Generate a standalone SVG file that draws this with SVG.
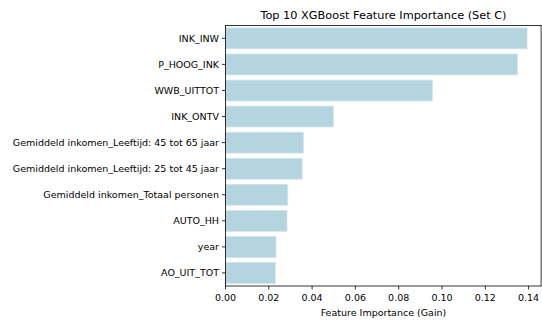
<svg xmlns="http://www.w3.org/2000/svg" width="542" height="323" viewBox="0 0 542 323">
<style>
text{font-family:"DejaVu Sans",sans-serif;fill:#000}
.yl{font-size:9.5px;text-anchor:end;dominant-baseline:central}
.xl{font-size:9.5px;text-anchor:middle;dominant-baseline:central}
.ttl{font-size:11.3px;text-anchor:middle;dominant-baseline:central}
.bar{fill:#b4d4df;stroke:#d2e5eb;stroke-width:0.8}
.tk{stroke:#000;stroke-width:0.8}
.sp{fill:none;stroke:#000;stroke-width:0.8}
</style>
<rect width="542" height="323" fill="#fff"/>
<text class="ttl" x="383.5" y="15">Top 10 XGBoost Feature Importance (Set C)</text>
<g id="bars">
<g id="bar-INK_INW"><rect class="bar" x="225.5" y="27.9" width="301.6" height="20.9"/></g>
<g id="bar-P_HOOG_INK"><rect class="bar" x="225.5" y="54" width="291.9" height="20.9"/></g>
<g id="bar-WWB_UITTOT"><rect class="bar" x="225.5" y="80.1" width="206.8" height="20.9"/></g>
<g id="bar-INK_ONTV"><rect class="bar" x="225.5" y="106.1" width="107.8" height="20.9"/></g>
<g id="bar-45-65"><rect class="bar" x="225.5" y="132.2" width="77.8" height="20.9"/></g>
<g id="bar-25-45"><rect class="bar" x="225.5" y="158.3" width="76.6" height="20.9"/></g>
<g id="bar-totaal"><rect class="bar" x="225.5" y="184.3" width="62.2" height="20.9"/></g>
<g id="bar-AUTO_HH"><rect class="bar" x="225.5" y="210.4" width="61.5" height="20.9"/></g>
<g id="bar-year"><rect class="bar" x="225.5" y="236.5" width="50.5" height="20.9"/></g>
<g id="bar-AO_UIT_TOT"><rect class="bar" x="225.5" y="262.5" width="49.8" height="20.9"/></g>
</g>
<g id="yaxis">
<path class="tk" d="M222 38.3h3.5M222 64.4h3.5M222 90.5h3.5M222 116.5h3.5M222 142.6h3.5M222 168.7h3.5M222 194.7h3.5M222 220.8h3.5M222 246.9h3.5M222 272.9h3.5"/>
<text class="yl" x="219" y="38.3">INK_INW</text>
<text class="yl" x="219" y="64.4">P_HOOG_INK</text>
<text class="yl" x="219" y="90.5">WWB_UITTOT</text>
<text class="yl" x="219" y="116.5">INK_ONTV</text>
<text class="yl" x="219" y="142.6">Gemiddeld inkomen_Leeftijd: 45 tot 65 jaar</text>
<text class="yl" x="219" y="168.7">Gemiddeld inkomen_Leeftijd: 25 tot 45 jaar</text>
<text class="yl" x="219" y="194.7">Gemiddeld inkomen_Totaal personen</text>
<text class="yl" x="219" y="220.8">AUTO_HH</text>
<text class="yl" x="219" y="246.9">year</text>
<text class="yl" x="219" y="272.9">AO_UIT_TOT</text>
</g>
<g id="xaxis">
<path class="tk" d="M225.5 286v3.5M268.8 286v3.5M312.1 286v3.5M355.4 286v3.5M398.7 286v3.5M442 286v3.5M485.3 286v3.5M528.6 286v3.5"/>
<text class="xl" x="225.5" y="297.5">0.00</text>
<text class="xl" x="268.8" y="297.5">0.02</text>
<text class="xl" x="312.1" y="297.5">0.04</text>
<text class="xl" x="355.4" y="297.5">0.06</text>
<text class="xl" x="398.7" y="297.5">0.08</text>
<text class="xl" x="442" y="297.5">0.10</text>
<text class="xl" x="485.3" y="297.5">0.12</text>
<text class="xl" x="528.6" y="297.5">0.14</text>
<text class="xl" x="383.5" y="312.5">Feature Importance (Gain)</text>
</g>
<rect class="sp" x="225.5" y="25.4" width="315.6" height="260.6"/>
</svg>
